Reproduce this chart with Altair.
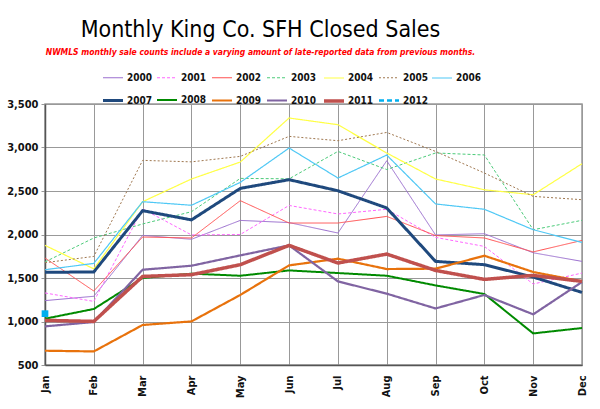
import altair as alt
import pandas as pd

months = ["Jan", "Feb", "Mar", "Apr", "May", "Jun", "Jul", "Aug", "Sep", "Oct", "Nov", "Dec"]
years = ["2000", "2001", "2002", "2003", "2004", "2005", "2006",
         "2007", "2008", "2009", "2010", "2011", "2012"]

v2000 = [1240, 1290, 1990, 1945, 2162, 2137, 2017, 2848, 1995, 2009, 1790, 1691]
v2001 = [1328, 1231, 2295, 1995, 2000, 2334, 2236, 2290, 1967, 1863, 1431, 1557]
v2002 = [1730, 1350, 1971, 1960, 2389, 2132, 2132, 2208, 1988, 1960, 1800, 1932]
v2003 = [1685, 1960, 2121, 2262, 2645, 2640, 2955, 2747, 2937, 2914, 2055, 2163]
v2004 = [1875, 1605, 2377, 2638, 2833, 3339, 3262, 2937, 2638, 2514, 2457, 2814]
v2005 = [1676, 1748, 2852, 2835, 2898, 3128, 3078, 3173, 2955, 2707, 2438, 2400]
v2006 = [1595, 1668, 2377, 2336, 2599, 2994, 2649, 2913, 2351, 2290, 2055, 1909]
v2007 = [1565, 1570, 2274, 2168, 2530, 2630, 2503, 2305, 1691, 1653, 1511, 1334]
v2008 = [1032, 1144, 1500, 1550, 1526, 1587, 1557, 1526, 1415, 1316, 863, 925]
v2009 = [664, 656, 960, 1001, 1305, 1645, 1722, 1603, 1607, 1756, 1569, 1461]
v2010 = [944, 994, 1595, 1641, 1760, 1875, 1461, 1320, 1150, 1305, 1082, 1454]
v2011 = [1013, 1001, 1518, 1538, 1653, 1875, 1672, 1775, 1587, 1484, 1530, 1461]
v2012 = [1090]

series = [v2000, v2001, v2002, v2003, v2004, v2005, v2006,
          v2007, v2008, v2009, v2010, v2011, v2012]

colors = ["#9B6FCF", "#FF66FF", "#FF5050", "#4CCB7A", "#FFFF44", "#A07850", "#4FC8F5",
          "#1F497D", "#008A00", "#E8720C", "#8064A2", "#C0504D", "#00B0F0"]
dashes = [[1, 0], [3, 2], [1, 0], [3, 2], [1, 0], [2, 2], [1, 0],
          [1, 0], [1, 0], [1, 0], [1, 0], [1, 0], [5, 3]]
widths = [1, 1, 1, 1, 1.2, 1, 1.2, 3, 2, 2.2, 2.2, 3.5, 2.5]

rows = []
for yr, vals in zip(years, series):
    for m, v in zip(months, vals):
        rows.append({"year": yr, "month": m, "sales": v})
df = pd.DataFrame(rows)
df12 = df[df["year"] == "2012"]

FONT = "DejaVu Sans Condensed"

x_enc = alt.X("month:O", sort=months,
              scale=alt.Scale(type="point", padding=0),
              axis=alt.Axis(title=None, labelAngle=-90, grid=True, ticks=False,
                            labelPadding=10, labelFont=FONT, labelFontSize=11,
                            labelFontWeight="bold", labelColor="#111",
                            gridColor="#999", gridWidth=1,
                            domainColor="#555", domainWidth=1.5))
y_enc = alt.Y("sales:Q",
              scale=alt.Scale(domain=[500, 3500], nice=False),
              axis=alt.Axis(title=None, values=list(range(500, 3501, 250)), format=",d",
                            labelFont=FONT, labelFontSize=11, labelFontWeight="bold",
                            labelColor="#111", tickSize=4, tickColor="#999",
                            labelPadding=3, gridColor="#999", gridWidth=1,
                            domainColor="#555", domainWidth=1.5))

lines = alt.Chart(df).mark_line().encode(
    x=x_enc,
    y=y_enc,
    color=alt.Color("year:N", scale=alt.Scale(domain=years, range=colors),
                    legend=alt.Legend(title=None)),
    strokeDash=alt.StrokeDash("year:N", scale=alt.Scale(domain=years, range=dashes),
                              legend=alt.Legend(title=None)),
    strokeWidth=alt.StrokeWidth("year:N",
                                scale=alt.Scale(type="ordinal", domain=years, range=widths),
                                legend=alt.Legend(title=None)),
)

pts = alt.Chart(df12).mark_square(size=45, color="#00B0F0", opacity=1).encode(
    x=alt.X("month:O", sort=months),
    y=alt.Y("sales:Q"),
)

chart = alt.layer(lines, pts).properties(
    width=537, height=261,
    autosize=alt.AutoSizeParams(type="none"),
    padding={"left": 45, "top": 104, "right": 18, "bottom": 44},
    title=alt.TitleParams(
        text="Monthly King Co. SFH Closed Sales",
        subtitle="NWMLS monthly sale counts include a varying amount of late-reported  data from previous months.",
        anchor="middle", dx=-53, offset=11,
        font=FONT, fontSize=23, fontWeight="normal", color="#000",
        subtitleFont=FONT, subtitleFontSize=8.5, subtitleFontStyle="italic",
        subtitleFontWeight="bold", subtitleColor="#FF0000", subtitlePadding=6,
    ),
).configure_view(
    stroke="#999", strokeWidth=1.5
).configure_legend(
    orient="none", legendX=56, legendY=-37, columns=7, direction="horizontal",
    symbolType="stroke", symbolSize=400, labelFont=FONT, labelFontSize=10,
    labelFontWeight="bold", labelColor="#111", labelOffset=2,
    columnPadding=0, rowPadding=6,
)

chart.save("out.html", embed_options={"renderer": "svg", "actions": False})
